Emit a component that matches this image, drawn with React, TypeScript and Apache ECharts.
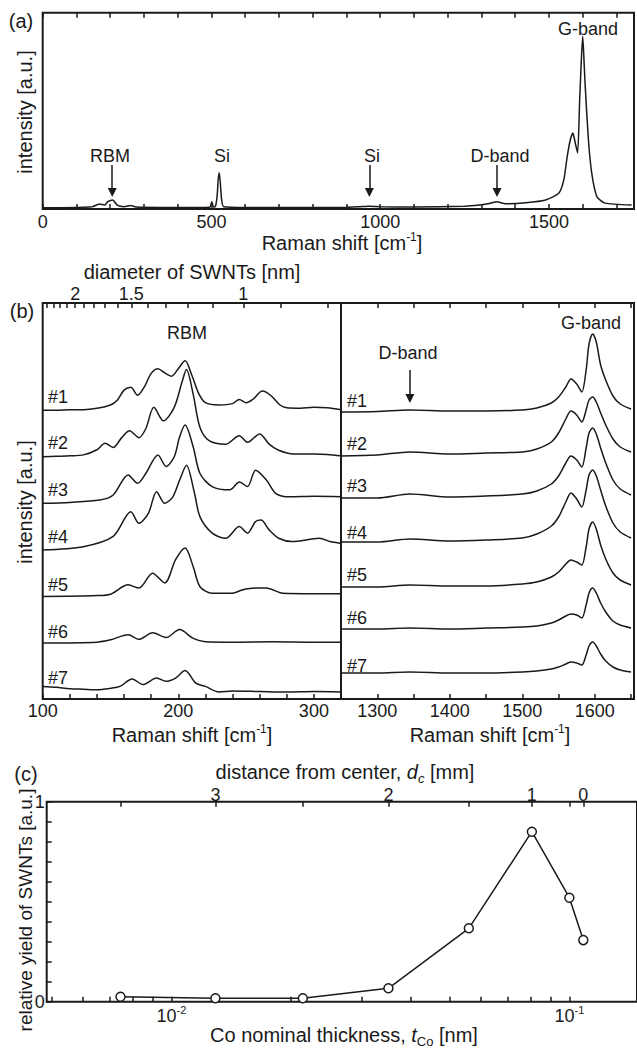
import React, { useEffect, useRef } from 'react';
import * as echarts from 'echarts';

// ---------- Panel (a): full Raman spectrum ----------
const fullShift = [0, 100, 140, 148, 168, 183, 193, 207, 222, 241, 261, 276, 350, 450, 495, 501, 506, 512, 517, 520, 523, 526, 530, 536, 600, 900, 940, 966, 1000, 1100, 1250, 1294, 1320, 1346, 1370, 1431, 1490, 1529, 1544, 1554, 1563, 1571, 1578, 1585, 1591, 1596, 1600, 1603, 1607, 1617, 1627, 1642, 1666, 1745];
const fullIntensity = [0.006, 0.008, 0.01, 0.012, 0.025, 0.02, 0.037, 0.046, 0.018, 0.012, 0.018, 0.01, 0.008, 0.008, 0.009, 0.037, 0.01, 0.014, 0.07, 0.15, 0.185, 0.14, 0.05, 0.012, 0.008, 0.009, 0.012, 0.014, 0.012, 0.01, 0.014, 0.02, 0.027, 0.037, 0.027, 0.032, 0.046, 0.08, 0.148, 0.266, 0.35, 0.387, 0.336, 0.285, 0.555, 0.76, 0.88, 0.79, 0.64, 0.35, 0.18, 0.063, 0.03, 0.02];
const arrowsA = [206, 968, 1346];

// ---------- Panel (b) left: RBM spectra #1..#7 [shift, intensity above own baseline] ----------
const rbm1 = [[100, 0], [110, 0], [120, 0.01], [130, 0.01], [140, 0.04], [150, 0.11], [155, 0.21], [160, 0.43], [165, 0.49], [170, 0.32], [175, 0.5], [180, 0.79], [185, 0.89], [190, 0.8], [195, 0.73], [200, 0.89], [205, 1.06], [210, 0.75], [215, 0.36], [220, 0.16], [230, 0.11], [240, 0.14], [245, 0.23], [250, 0.16], [255, 0.23], [262, 0.41], [268, 0.32], [275, 0.11], [280, 0.05], [290, 0.04], [300, 0.06], [310, 0.05], [320, 0.01]];
const rbm2 = [[100, 0], [110, 0.01], [120, 0.02], [130, 0.04], [140, 0.15], [146, 0.29], [152, 0.2], [158, 0.4], [164, 0.56], [171, 0.41], [176, 0.6], [182, 1.06], [189, 0.77], [197, 1.06], [203, 1.63], [206, 1.87], [211, 1.34], [216, 0.63], [223, 0.34], [235, 0.27], [245, 0.45], [251, 0.31], [260, 0.49], [267, 0.27], [274, 0.14], [285, 0.06], [300, 0.06], [310, 0.05], [320, 0.02]];
const rbm3 = [[100, 0], [120, 0.02], [142, 0.07], [152, 0.18], [163, 0.61], [170, 0.43], [176, 0.64], [185, 1.04], [191, 0.79], [197, 1.0], [201, 1.43], [205, 1.68], [211, 1.21], [216, 0.64], [225, 0.36], [238, 0.29], [245, 0.46], [251, 0.36], [257, 0.71], [265, 0.5], [272, 0.21], [282, 0.14], [300, 0.15], [320, 0.14]];
const rbm4 = [[100, 0], [130, 0.07], [152, 0.29], [165, 0.82], [171, 0.57], [178, 0.79], [184, 1.25], [190, 1.0], [196, 1.14], [201, 1.5], [206, 1.82], [212, 1.21], [216, 0.71], [225, 0.36], [235, 0.25], [245, 0.5], [251, 0.36], [257, 0.61], [261, 0.64], [267, 0.43], [274, 0.25], [284, 0.18], [304, 0.25], [312, 0.18], [320, 0.14]];
const rbm5 = [[100, 0], [140, 0.02], [150, 0.05], [163, 0.25], [171, 0.18], [181, 0.5], [190, 0.29], [198, 0.79], [205, 1.04], [211, 0.64], [216, 0.21], [225, 0.07], [240, 0.07], [247, 0.14], [257, 0.18], [265, 0.18], [277, 0.07], [300, 0.06], [320, 0.06]];
const rbm6 = [[100, 0], [140, 0.02], [150, 0.07], [163, 0.18], [171, 0.08], [181, 0.22], [191, 0.12], [201, 0.29], [211, 0.1], [220, 0.03], [240, 0.02], [270, 0.03], [300, 0.02], [320, 0.02]];
const rbm7 = [[100, 0.07], [110, 0.05], [120, 0.02], [130, 0.01], [140, 0], [150, 0.03], [157, 0.07], [166, 0.23], [174, 0.11], [184, 0.25], [191, 0.18], [198, 0.25], [205, 0.41], [213, 0.14], [220, 0.07], [230, -0.05], [240, -0.03], [260, -0.04], [280, -0.05], [300, -0.04], [320, -0.05]];
const rbmSpectra = [rbm1, rbm2, rbm3, rbm4, rbm5, rbm6, rbm7];
const rbmOffsets = [6.2, 5.2, 4.2, 3.2, 2.2, 1.2, 0.2];

// diameter axis (top of RBM panel): omega = 248 / d
const diameterTicks = [2.4, 2.3, 2.2, 2.1, 2.0, 1.9, 1.8, 1.7, 1.6, 1.5, 1.4, 1.3, 1.2, 1.1, 1.0, 0.9, 0.8];
const diameterLabels = [2, 1.5, 1];

// ---------- Panel (b) right: D / G band spectra ----------
const gShift = [1250, 1300, 1345, 1400, 1450, 1500, 1520, 1540, 1550, 1560, 1567, 1575, 1582, 1588, 1592, 1597, 1602, 1608, 1615, 1625, 1635, 1650];
const g1 = [0, 0.5, 2, 1, 1, 2, 4, 9, 15, 25, 33, 28, 20, 42, 68, 78, 70, 47, 32, 16, 8, 3];
const g2 = [-1, 0, 3, 1, 2, 3, 6, 13, 22, 36, 44, 40, 33, 45, 55, 58, 53, 42, 30, 16, 8, 3];
const g3 = [0, 0, 4, 1, 2, 4, 7, 14, 22, 35, 42, 38, 31, 50, 65, 70, 64, 50, 35, 18, 9, 3];
const g4 = [0, 0, 3, 1, 2, 4, 8, 16, 25, 40, 49, 43, 35, 52, 67, 72, 66, 52, 36, 19, 10, 4];
const g5 = [0, 0, 2, 1, 1, 3, 5, 10, 15, 23, 27, 25, 22, 40, 58, 65, 58, 42, 28, 14, 7, 2];
const g6 = [0, 0, 1, 0, 1, 2, 3, 6, 9, 13, 15, 14, 11, 24, 36, 41, 36, 26, 17, 8, 4, 1];
const g7 = [0, 0, 1, 0, 0, 1, 2, 4, 6, 9, 11, 10, 8, 18, 27, 31, 27, 19, 12, 6, 3, 1];
const gSpectra = [g1, g2, g3, g4, g5, g6, g7];
const gOffsets = [287, 244, 201, 157, 112, 70, 26];
const sampleNames = ['#1', '#2', '#3', '#4', '#5', '#6', '#7'];

// ---------- Panel (c): yield vs Co thickness ----------
const thickness = [0.00745, 0.0129, 0.0214, 0.0351, 0.0559, 0.0805, 0.1, 0.1084];
const yieldVals = [0.025, 0.017, 0.017, 0.067, 0.367, 0.85, 0.52, 0.308];
const distance = [3.5, 3, 2.5, 2, 1.5, 1, 0.5, 0];
const thicknessTicks = [0.005, 0.006, 0.007, 0.008, 0.009, 0.01, 0.02, 0.03, 0.04, 0.05, 0.06, 0.07, 0.08, 0.09, 0.1];
const thicknessLabels = [0.01, 0.1];

const FONT = '"Liberation Sans", Arial, Helvetica, sans-serif';
const INK = '#1a1a1a';

function txt(text: string, x: number, y: number, size = 18, extra: any = {}, rotate = 0) {
  return {
    type: 'text',
    x,
    y,
    rotation: rotate,
    silent: true,
    style: {
      text,
      fill: INK,
      fontSize: size,
      fontFamily: FONT,
      textAlign: 'center',
      textVerticalAlign: 'middle',
      align: 'center',
      verticalAlign: 'middle',
      ...extra,
    },
  };
}

function richTxt(text: string, x: number, y: number, rich: any, rotate = 0) {
  return {
    type: 'text',
    x,
    y,
    rotation: rotate,
    silent: true,
    style: {
      text,
      fill: INK,
      fontSize: 20,
      fontFamily: FONT,
      textAlign: 'center',
      textVerticalAlign: 'middle',
      align: 'center',
      verticalAlign: 'middle',
      rich,
    },
  };
}

const richSup = {
  n: { fontSize: 20, fontFamily: FONT, fill: INK, lineHeight: 24 },
  s: { fontSize: 12, fontFamily: FONT, fill: INK, lineHeight: 12, verticalAlign: 'top' },
};
const richSub = {
  n: { fontSize: 20, fontFamily: FONT, fill: INK, lineHeight: 26 },
  i: { fontSize: 20, fontFamily: FONT, fill: INK, lineHeight: 26, fontStyle: 'italic' },
  b: { fontSize: 13, fontFamily: FONT, fill: INK, lineHeight: 10, verticalAlign: 'bottom' },
  bi: { fontSize: 13, fontFamily: FONT, fill: INK, lineHeight: 10, verticalAlign: 'bottom', fontStyle: 'italic' },
};

const tickStyle = { show: true, inside: true, length: 5, lineStyle: { color: INK, width: 1.5 } };
const labelBase = { color: INK, fontSize: 18, fontFamily: FONT };

function buildOption(): any {
  const gridBase = { show: true, borderColor: INK, borderWidth: 2, backgroundColor: 'transparent', containLabel: false };
  const grid = [
    { ...gridBase, left: 42.7, top: 12.7, width: 597, height: 196.3 },
    { ...gridBase, left: 42.7, top: 303, width: 298.3, height: 396 },
    { ...gridBase, left: 341, top: 303, width: 299, height: 396 },
    { ...gridBase, left: 46.7, top: 801.7, width: 593.3, height: 200 },
  ];

  const noLine = { show: false };
  const noSplit = { show: false };

  const xAxis: any[] = [
    {
      gridIndex: 0, type: 'value', position: 'bottom', min: 0, max: 1752, interval: 100,
      axisLine: noLine, splitLine: noSplit, axisTick: tickStyle,
      axisLabel: { ...labelBase, margin: 4, formatter: (v: number) => (v % 500 === 0 ? String(v) : '') },
    },
    {
      gridIndex: 0, type: 'value', position: 'top', min: 0, max: 1752, interval: 100,
      axisLine: noLine, splitLine: noSplit, axisTick: tickStyle, axisLabel: { show: false },
    },
    {
      gridIndex: 1, type: 'value', position: 'bottom', min: 100, max: 320, interval: 20,
      axisLine: noLine, splitLine: noSplit, axisTick: tickStyle,
      axisLabel: { ...labelBase, margin: 3, formatter: (v: number) => (v % 100 === 0 ? String(v) : '') },
    },
    {
      gridIndex: 1, type: 'value', position: 'top', min: 100, max: 320,
      axisLine: noLine, splitLine: noSplit,
      axisTick: { ...tickStyle, customValues: diameterTicks.map((d) => 248 / d) },
      axisLabel: {
        ...labelBase, margin: 0,
        customValues: diameterLabels.map((d) => 248 / d),
        formatter: (v: number) => String(Math.round((248 / v) * 10) / 10),
      },
    },
    {
      gridIndex: 2, type: 'value', position: 'bottom', min: 1250, max: 1654, interval: 50,
      axisLine: noLine, splitLine: noSplit, axisTick: tickStyle,
      axisLabel: { ...labelBase, margin: 3, formatter: (v: number) => (v % 100 === 0 && v >= 1300 && v <= 1600 ? String(v) : '') },
    },
    {
      gridIndex: 2, type: 'value', position: 'top', min: 1250, max: 1654, interval: 50,
      axisLine: noLine, splitLine: noSplit, axisTick: tickStyle, axisLabel: { show: false },
    },
    {
      gridIndex: 3, type: 'log', logBase: 10, position: 'bottom', min: 0.004861, max: 0.1479,
      axisLine: noLine, splitLine: noSplit, minorTick: { show: false },
      axisTick: { ...tickStyle, customValues: thicknessTicks },
      axisLabel: {
        ...labelBase, margin: 3,
        customValues: thicknessLabels,
        formatter: (v: number) => '{b|10}{s|' + String(Math.round(Math.log10(v))) + '}',
        rich: {
          b: { fontSize: 18, fontFamily: FONT, color: INK, lineHeight: 22 },
          s: { fontSize: 11, fontFamily: FONT, color: INK, lineHeight: 11, verticalAlign: 'top' },
        },
      },
    },
    {
      gridIndex: 3, type: 'log', logBase: 10, position: 'top', min: 0.004861, max: 0.1479,
      axisLine: noLine, splitLine: noSplit, minorTick: { show: false },
      axisTick: { ...tickStyle, customValues: thickness },
      axisLabel: {
        ...labelBase, margin: -1, lineHeight: 16,
        customValues: thickness.filter((_, i) => Number.isInteger(distance[i])),
        formatter: (v: number) => {
          let best = 0;
          for (let i = 0; i < thickness.length; i++) {
            if (Math.abs(Math.log(thickness[i]) - Math.log(v)) < Math.abs(Math.log(thickness[best]) - Math.log(v))) best = i;
          }
          return String(distance[best]);
        },
      },
    },
  ];

  const yAxis: any[] = [
    { gridIndex: 0, type: 'value', min: 0, max: 1, show: false, splitLine: noSplit },
    { gridIndex: 1, type: 'value', min: 0, max: 8.5, show: false, splitLine: noSplit },
    { gridIndex: 2, type: 'value', min: 0, max: 396, show: false, splitLine: noSplit },
    {
      gridIndex: 3, type: 'value', min: 0, max: 1, interval: 0.1,
      axisLine: noLine, splitLine: noSplit, axisTick: tickStyle,
      axisLabel: {
        ...labelBase, margin: 2,
        formatter: (v: number) => (Math.abs(v) < 1e-9 ? '0' : Math.abs(v - 1) < 1e-9 ? '1' : ''),
      },
    },
  ];

  const lineStyle = { color: INK, width: 1.5 };
  const arrowMark = (pairs: number[][][]) => ({
    silent: true,
    symbol: ['none', 'triangle'],
    symbolSize: 9,
    lineStyle: { color: INK, width: 1.5, type: 'solid' },
    itemStyle: { color: INK },
    label: { show: false },
    emphasis: { disabled: true },
    data: pairs.map(([a, b]) => [{ coord: a }, { coord: b }]),
  });

  const series: any[] = [];
  series.push({
    type: 'line', xAxisIndex: 0, yAxisIndex: 0, symbol: 'none', smooth: 0.2,
    data: fullShift.map((x, i) => [x, fullIntensity[i]]),
    lineStyle,
    markLine: arrowMark(arrowsA.map((x) => [[x, 0.224], [x, 0.084]])),
  });
  rbmSpectra.forEach((sp, k) => {
    series.push({
      type: 'line', xAxisIndex: 2, yAxisIndex: 1, symbol: 'none', smooth: 0.3,
      data: sp.map(([x, v]) => [x, v + rbmOffsets[k]]),
      lineStyle,
    });
  });
  gSpectra.forEach((sp, k) => {
    const s: any = {
      type: 'line', xAxisIndex: 4, yAxisIndex: 2, symbol: 'none', smooth: 0.3,
      data: gShift.map((x, i) => [x, sp[i] + gOffsets[k]]),
      lineStyle,
    };
    if (k === 0) s.markLine = arrowMark([[[1345, 329], [1345, 300.5]]]);
    series.push(s);
  });
  series.push({
    type: 'line', xAxisIndex: 6, yAxisIndex: 3, symbol: 'circle', symbolSize: 9, showSymbol: true,
    data: thickness.map((t, i) => [t, yieldVals[i]]),
    lineStyle,
    itemStyle: { color: '#fff', borderColor: INK, borderWidth: 1.5 },
  });

  const graphic: any[] = [
    // panel (a)
    txt('(a)', 21, 21, 20),
    txt('intensity [a.u.]', 25, 112, 20, {}, Math.PI / 2),
    richTxt('{n|Raman shift [cm}{s|-1}{n|]}', 342, 243, richSup),
    txt('RBM', 110, 156),
    txt('Si', 222, 156),
    txt('Si', 372, 156),
    txt('D-band', 500, 156),
    txt('G-band', 588, 29),
    // panel (b)
    txt('(b)', 22, 311, 20),
    txt('diameter of SWNTs [nm]', 192, 272, 20),
    txt('intensity [a.u.]', 25, 502, 20, {}, Math.PI / 2),
    txt('RBM', 187, 333),
    txt('D-band', 408, 353),
    txt('G-band', 591, 323),
    richTxt('{n|Raman shift [cm}{s|-1}{n|]}', 192, 735, richSup),
    richTxt('{n|Raman shift [cm}{s|-1}{n|]}', 490, 735, richSup),
    // panel (c)
    txt('(c)', 26, 774, 20),
    richTxt('{n|distance from center, }{i|d}{bi|c}{n| [mm]}', 345, 772, richSub),
    richTxt('{n|Co nominal thickness, }{i|t}{b|Co}{n| [nm]}', 344, 1035, richSub),
    txt('relative yield of SWNTs [a.u.]', 25, 910, 19, {}, Math.PI / 2),
  ];
  const leftLabelY = [397, 443, 490, 537, 585, 632, 678];
  const rightLabelY = [401, 444, 486, 533, 575, 618, 666];
  sampleNames.forEach((n, i) => {
    graphic.push(txt(n, 48, leftLabelY[i], 18, { textAlign: 'left', align: 'left' }));
    graphic.push(txt(n, 347, rightLabelY[i], 18, { textAlign: 'left', align: 'left' }));
  });

  return {
    animation: false,
    backgroundColor: '#fff',
    textStyle: { fontFamily: FONT },
    grid,
    xAxis,
    yAxis,
    series,
    graphic,
  };
}

export default function App() {
  const ref = useRef<HTMLDivElement>(null);
  useEffect(() => {
    if (!ref.current) return;
    const chart = echarts.init(ref.current, null, { renderer: 'svg' });
    chart.setOption(buildOption());
    return () => chart.dispose();
  }, []);
  return (
    <div
      ref={ref}
      style={{ position: 'fixed', left: 0, top: 0, width: 637, height: 1050, background: '#fff' }}
    />
  );
}
